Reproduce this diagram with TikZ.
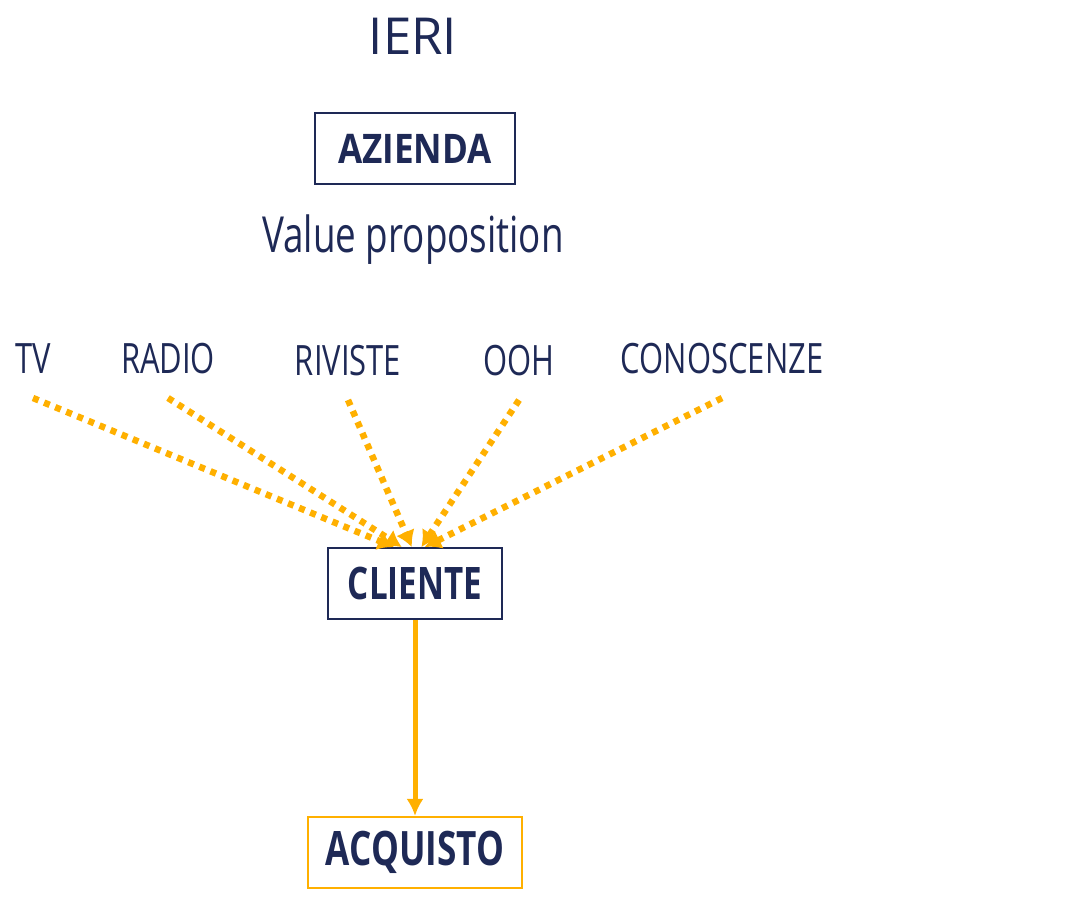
\documentclass[tikz,border=0pt]{standalone}
\usepackage{fontspec}
\setmainfont{Open Sans}
\newfontfamily\condfont[FakeStretch=0.74]{Open Sans}
\newfontfamily\condbold[FakeStretch=0.74]{Open Sans Bold}
\newfontfamily\widebold[FakeStretch=0.86]{Open Sans Bold}
\usetikzlibrary{%
  arrows.meta,positioning}
\tikzstyle{line} = [draw, -{Latex[length=0.34cm,width=0.34cm]},
  line width=0.1cm,fill=none,mOrange]
\tikzstyle{dline} = [draw, -{Latex[length=0.32cm,width=0.4cm,fill=mOrange]},
  line width=0.13cm,fill=none,mOrange,dash pattern=on 0.12cm off 0.12cm]
\definecolor{mNavy}{RGB}{30,41,86}
\definecolor{mOrange}{RGB}{255,176,0}

\begin{document}
\begin{tikzpicture}[
    x=0.02cm, y=-0.02cm,
    box/.style={
      draw=mNavy,
      line width=0.04cm,
      fill=white,
      text=mNavy,
      minimum height=1.42cm,
      align=center,
      inner sep=2pt,
    },
    obox/.style={
      box,
      draw=mOrange,
    },
    media/.style={
      text=mNavy,
      font=\condfont\fontsize{23.8}{28}\selectfont,
      inner sep=0pt,
      text height=0.6cm,
      text depth=0pt,
      outer ysep=0.5cm,
    },
  ]
  \useasboundingbox (0,0) rectangle (1077,900);

  \node[text=mNavy,font=\fontsize{29}{34}\selectfont] (ieri) at (413,36) {IERI};
  \node[box,minimum width=4cm,font=\widebold\fontsize{23.2}{28}\selectfont]
    (azienda) at (415,148.5) {AZIENDA};
  \node[text=mNavy,font=\condfont\fontsize{28.3}{34}\selectfont]
    (value) at (413,240) {Value proposition};

  \node[media] (tv) at (33,358) {TV};
  \node[media] (radio) at (168,358) {RADIO};
  \node[media] (riviste) at (348,360) {RIVISTE};
  \node[media] (ooh) at (519,360) {OOH};
  \node[media] (conoscenze) at (722,358) {CONOSCENZE};

  \node[box,minimum width=3.48cm,font=\condbold\fontsize{25.5}{30}\selectfont]
    (cliente) at (415,583.5) {CLIENTE};
  \node[obox,minimum width=4.28cm,below=3.92cm of cliente,
    font=\condbold\fontsize{27}{32}\selectfont] (acquisto) {ACQUISTO};

  \draw[dline] (tv.south) -- (cliente.120);
  \draw[dline] (radio.south) -- (cliente.110);
  \draw[dline] (riviste.south) -- (cliente.95);
  \draw[dline] (ooh.south) -- (cliente.80);
  \draw[dline] (conoscenze.south) -- (cliente.75);

  \draw[line] (cliente) -- (acquisto);

\end{tikzpicture}
\end{document}
